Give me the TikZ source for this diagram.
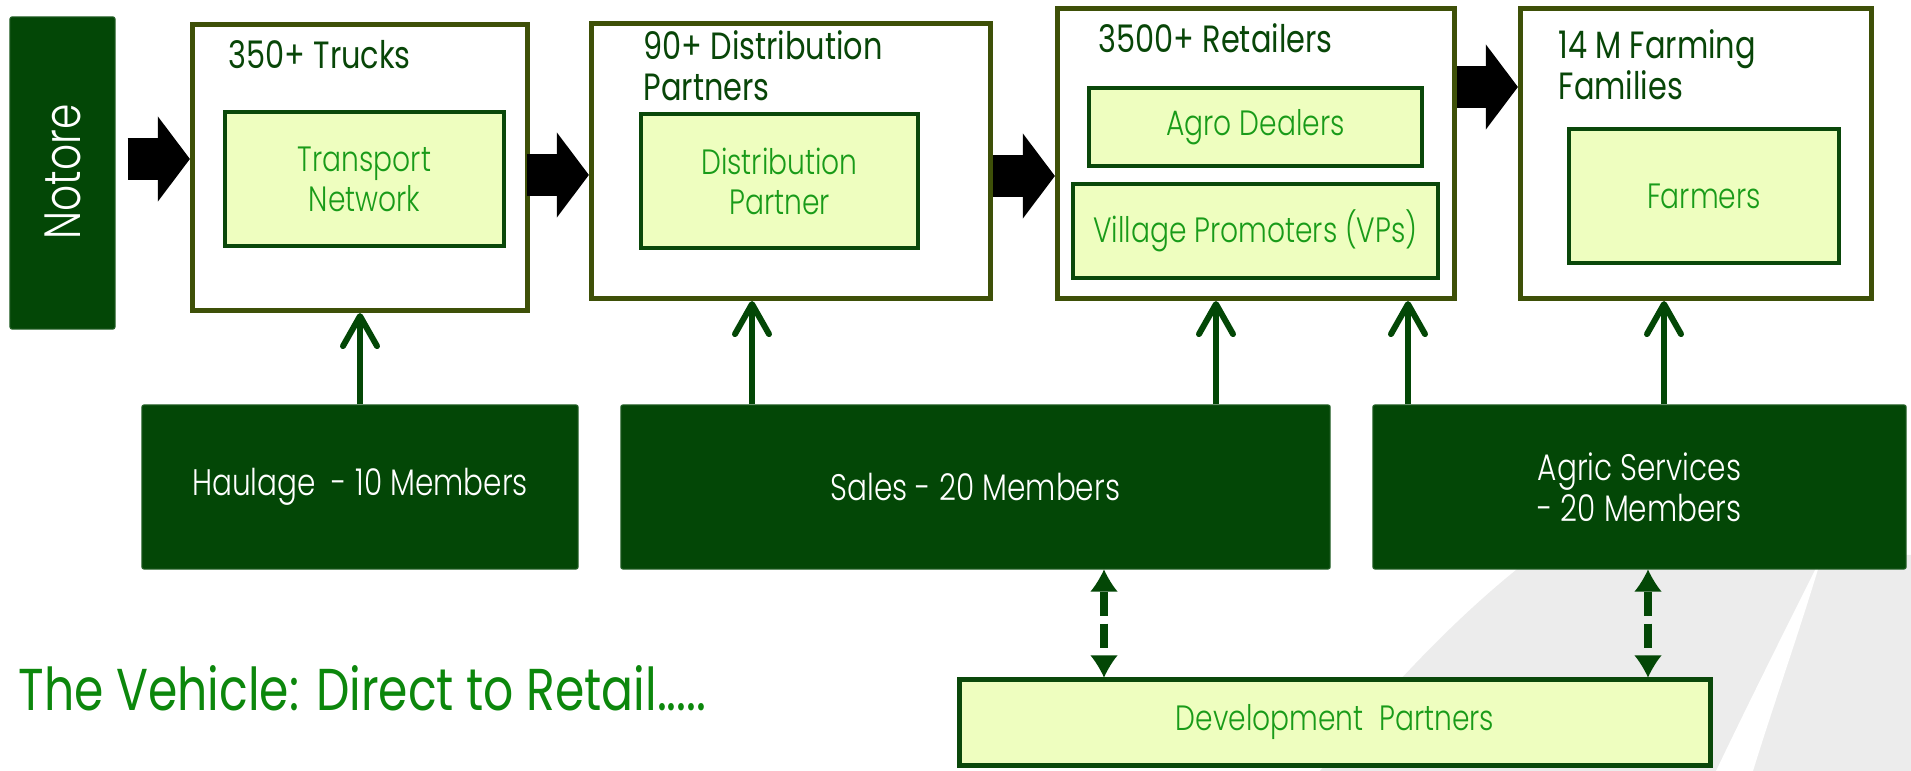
\documentclass[tikz,border=0pt]{standalone}
\usepackage{fontspec}
\setmainfont{Poppins}[UprightFont=* Light, FakeStretch=0.8]
\newfontfamily\headfont{Poppins}[FakeStretch=0.8]
\usetikzlibrary{arrows.meta,calc}

\definecolor{dkgreen}{RGB}{3,71,6}
\definecolor{stageline}{RGB}{62,80,8}
\definecolor{pale}{RGB}{238,254,191}
\definecolor{unitline}{RGB}{10,72,10}
\definecolor{unittext}{RGB}{25,155,25}
\definecolor{titlegreen}{RGB}{8,70,8}
\definecolor{captiongreen}{RGB}{12,135,12}
\definecolor{watermark}{RGB}{236,236,236}

\begin{document}
\begin{tikzpicture}[x=0.01cm,y=-0.01cm,
  stage/.style={draw=stageline, line width=0.05cm, fill=white, inner sep=0pt},
  unit/.style={draw=unitline, line width=0.045cm, fill=pale, text=unittext,
    font=\fontsize{10}{11.4}\selectfont, align=center, inner sep=0pt},
  team/.style={fill=dkgreen, draw=dkgreen!85!white, line width=0.01cm,
    rounded corners=0.02cm, text=white, font=\fontsize{10.5}{11.7}\selectfont,
    align=center, inner sep=0pt},
  stagetitle/.style={anchor=base west, text=titlegreen, align=left, inner sep=0pt,
    font=\headfont\fontsize{10.8}{11.7}\selectfont},
  flow/.style={draw=black, line width=0.42cm,
    -{Triangle[length=0.32cm,width=0.85cm,line width=0pt]}},
  feed/.style={draw=dkgreen, line width=0.06cm,
    -{Straight Barb[length=0.3cm,width=0.34cm,round]}},
  link/.style={draw=dkgreen, line width=0.075cm, dash pattern=on 0.24cm off 0.08cm,
    {Latex[length=0.22cm,width=0.27cm,line width=0pt]}-{Latex[length=0.22cm,width=0.27cm,line width=0pt]}}
]
\useasboundingbox (0,0) rectangle (1911,771);

% faint swoosh in the lower right corner
\fill[watermark] (1320,771) .. controls (1380,700) and (1450,620) .. (1535,555)
  -- (1911,555) -- (1911,771) -- cycle;
\fill[white] (1716,771) .. controls (1750,700) and (1790,620) .. (1822,556)
  .. controls (1800,630) and (1775,700) .. (1753,771) -- cycle;

% supplier
\node[team, minimum width=1.05cm, minimum height=3.12cm] (notore) at (62.5,173) {};
\node[rotate=90, text=white, font=\fontsize{14.5}{16}\selectfont, inner sep=0pt]
  (notorelabel) at (63,172) {Notore};

% stages of the chain
\node[stage, minimum width=3.35cm, minimum height=2.86cm] (b1) at (360,167.5) {};
\node[stage, minimum width=3.99cm, minimum height=2.75cm] (b2) at (791,161) {};
\node[stage, minimum width=3.97cm, minimum height=2.90cm] (b3) at (1256,153.5) {};
\node[stage, minimum width=3.51cm, minimum height=2.90cm] (b4) at (1696,153.5) {};

% stage titles (anchored on the baseline of their last line)
\node[stagetitle] (t1) at (228,69) {350+ Trucks};
\node[stagetitle] (t2) at (643,101) {90+ Distribution\\Partners};
\node[stagetitle] (t3) at (1098,53) {3500+ Retailers};
\node[stagetitle] (t4) at (1558,100) {14 M Farming\\Families};

\node[unit, minimum width=2.79cm, minimum height=1.34cm] (transport) at (364.5,179) {Transport\\Network};
\node[unit, minimum width=2.77cm, minimum height=1.34cm] (distrib) at (779.5,181) {Distribution\\Partner};
\node[unit, minimum width=3.33cm, minimum height=0.78cm] (agro) at (1255.5,127) {Agro Dealers};
\node[unit, minimum width=3.65cm, minimum height=0.94cm] (village) at (1255.5,231) {Village Promoters (VPs)};
\node[unit, minimum width=2.70cm, minimum height=1.34cm] (farmers) at (1704,196) {Farmers};

% teams
\node[team, minimum width=4.36cm, minimum height=1.64cm] (haul) at (360,487) {Haulage\ \ - 10 Members};
\node[team, minimum width=7.09cm, minimum height=1.64cm] (sales) at (975.5,487) {Sales - 20 Members};
\node[team, minimum width=5.33cm, minimum height=1.64cm] (agric) at (1639.5,487) {Agric Services\\- 20 Members};

\node[unit, line width=0.05cm, minimum width=7.50cm, minimum height=0.85cm] (dev) at (1335,722.5) {Development\ \ Partners};

\node[anchor=base west, text=captiongreen, inner sep=0pt, font=\headfont\fontsize{16.8}{20}\selectfont]
  (caption) at (18,711) {The Vehicle: Direct to Retail.....};

% main flow
\coordinate (f1) at (0,159);
\coordinate (f2) at (0,175);
\coordinate (f3) at (0,176);
\coordinate (f4) at (0,87);
\draw[flow, shorten <=0.12cm] (notore.east |- f1) -- (b1.west |- f1);
\draw[flow, shorten <=-0.03cm] (b1.east |- f2) -- (b2.west |- f2);
\draw[flow] (b2.east |- f3) -- (b3.west |- f3);
\draw[flow] (b3.east |- f4) -- (b4.west |- f4);

% team support
\coordinate (s1) at (360,0);
\coordinate (s2) at (752,0);
\coordinate (s3) at (1216,0);
\coordinate (s4) at (1408,0);
\coordinate (s5) at (1664,0);
\draw[feed] (haul.north -| s1) -- (b1.south -| s1);
\draw[feed] (sales.north -| s2) -- (b2.south -| s2);
\draw[feed] (sales.north -| s3) -- (b3.south -| s3);
\draw[feed] (agric.north -| s4) -- (b3.south -| s4);
\draw[feed] (agric.north -| s5) -- (b4.south -| s5);

% partnership links
\coordinate (p1) at (1104,0);
\coordinate (p2) at (1648,0);
\draw[link] (sales.south -| p1) -- (dev.north -| p1);
\draw[link] (agric.south -| p2) -- (dev.north -| p2);
\end{tikzpicture}
\end{document}
